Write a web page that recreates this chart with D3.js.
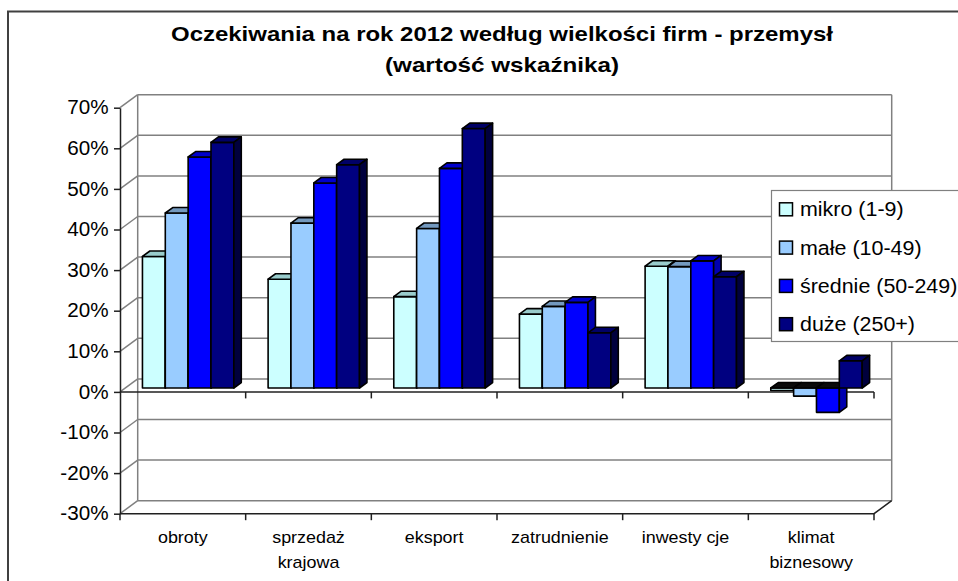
<!DOCTYPE html>
<html>
<head>
<meta charset="utf-8">
<script src="https://cdnjs.cloudflare.com/ajax/libs/d3/7.8.5/d3.min.js"></script>
<style>
  body { margin: 0; background: #fff; }
  svg { display: block; font-family: "Liberation Sans", Arial, sans-serif; }
</style>
</head>
<body>
<script>
// data (percent)
const categories = ["obroty", "sprzedaż\nkrajowa", "eksport", "zatrudnienie", "inwesty cje", "klimat\nbiznesowy"];
const series = ["mikro (1-9)", "małe (10-49)", "średnie (50-249)", "duże (250+)"];
const mikro   = [32.4, 26.8, 22.5, 18.2, 30.0, -0.6];
const male    = [43.1, 40.6, 39.3, 20.1, 29.9, -2.0];
const srednie = [56.9, 50.5, 54.1, 21.1, 31.3, -6.0];
const duze    = [60.5, 55.0, 63.9, 13.6, 27.4, 6.7];
const yTicks = [-30, -20, -10, 0, 10, 20, 30, 40, 50, 60, 70];
const titleLines = ["Oczekiwania na rok 2012 według wielkości firm - przemysł", "(wartość wskaźnika)"];

const values = [mikro, male, srednie, duze];
const frontCol = ["#ccffff", "#99ccff", "#0000ff", "#000080"];
const topCol   = ["#99cccc", "#7399bf", "#0000cc", "#000066"];
const sideCol  = ["#80aaaa", "#5f82a6", "#0000b0", "#00003d"];

const W = 958, H = 581;
const DX = 17.7, DY = 13;          // depth of the 3D box
const D0 = 0.3, D1 = 0.72;         // bar depth inside box

const svg = d3.select("body").append("svg").attr("width", W).attr("height", H);

const x0 = d3.scaleBand().domain(categories).range([120, 874]);
const x1 = d3.scaleBand().domain(series).range([0, x0.bandwidth()]).paddingOuter(0.75);
const y = d3.scaleLinear().domain([-30, 70]).range([513.7, 107.7]);

const left = x0.range()[0], right = x0.range()[1];
const grid = "#808080";

// text in the picture is a bit stretched sideways
function stext(g, x, yy, str, size, sx) {
  return g.append("text")
    .attr("transform", `translate(${x},${yy}) scale(${sx},1)`)
    .attr("font-size", size)
    .attr("fill", "#000")
    .text(str);
}

// outer frame
svg.append("path").attr("d", `M8,${H} V11.5 H${W}`)
  .attr("fill", "none").attr("stroke", "#404040").attr("stroke-width", 2);

// title
const title = svg.append("g").attr("font-weight", "bold").attr("font-size", 20.5).attr("text-anchor", "middle");
title.append("text").attr("x", 502).attr("y", 41).attr("textLength", 662)
  .attr("lengthAdjust", "spacingAndGlyphs").text(titleLines[0]);
title.append("text").attr("x", 502).attr("y", 72).attr("textLength", 234)
  .attr("lengthAdjust", "spacingAndGlyphs").text(titleLines[1]);

// back wall and side wall gridlines
const walls = svg.append("g").attr("stroke", grid).attr("stroke-width", 1.5).attr("fill", "none");
walls.selectAll(".back").data(yTicks).join("line")
  .attr("x1", left + DX).attr("x2", right + DX)
  .attr("y1", d => y(d) - DY).attr("y2", d => y(d) - DY);
walls.selectAll(".side").data(yTicks).join("line")
  .attr("x1", left).attr("x2", left + DX)
  .attr("y1", d => y(d)).attr("y2", d => y(d) - DY);
walls.append("line").attr("x1", left + DX).attr("x2", left + DX)
  .attr("y1", y(70) - DY).attr("y2", y(-30) - DY);
walls.append("line").attr("x1", right + DX).attr("x2", right + DX)
  .attr("y1", y(70) - DY).attr("y2", y(-30) - DY);

// floor front edge
svg.append("path")
  .attr("d", `M${left},${y(-30)} H${right} L${right + DX},${y(-30) - DY}`)
  .attr("fill", "none").attr("stroke", "#202020").attr("stroke-width", 1.5);
svg.append("g").selectAll("line").data(d3.range(categories.length + 1)).join("line")
  .attr("x1", i => left + i * x0.step()).attr("x2", i => left + i * x0.step())
  .attr("y1", y(-30)).attr("y2", y(-30) + 6.5)
  .attr("stroke", "#202020").attr("stroke-width", 1.5);

// value axis
const ySX = 1.06;
const yAxis = svg.append("g").attr("transform", `translate(${left},0)`)
  .call(d3.axisLeft(y).tickValues(yTicks).tickSize(6).tickSizeOuter(0).tickPadding(9)
    .tickFormat(d => d + "%"));
yAxis.select(".domain").attr("stroke", "#202020").attr("stroke-width", 1.5);
yAxis.selectAll(".tick line").attr("stroke", "#202020").attr("stroke-width", 1.5);
yAxis.selectAll(".tick text")
  .attr("font-size", 19.5).attr("fill", "#000")
  .attr("font-family", "Liberation Sans, Arial, sans-serif")
  .attr("x", -11.5 / ySX)
  .attr("transform", `scale(${ySX},1)`);

// zero line (category axis)
svg.append("line").attr("x1", left).attr("x2", right).attr("y1", y(0)).attr("y2", y(0))
  .attr("stroke", "#202020").attr("stroke-width", 1.5);
svg.append("g").selectAll("line").data(d3.range(1, categories.length + 1)).join("line")
  .attr("x1", i => left + i * x0.step()).attr("x2", i => left + i * x0.step())
  .attr("y1", y(0)).attr("y2", y(0) + 6.5)
  .attr("stroke", "#202020").attr("stroke-width", 1.5);

// bars
const bars = svg.append("g").attr("stroke", "#000").attr("stroke-width", 1.6).attr("stroke-linejoin", "round");
categories.forEach((c, i) => {
  series.forEach((s, j) => {
    const v = values[j][i];
    const bx = x0(c) + x1(s) + D0 * DX;
    const bw = x1.bandwidth();
    const hi = Math.max(v, 0), lo = Math.min(v, 0);
    const yt = y(hi) - D0 * DY, yb = y(lo) - D0 * DY;
    const ddx = (D1 - D0) * DX, ddy = (D1 - D0) * DY;
    const g = bars.append("g");
    g.append("polygon")
      .attr("points", [[bx, yt], [bx + bw, yt], [bx + bw, yb], [bx, yb]].join(" "))
      .attr("fill", frontCol[j]);
    g.append("polygon")
      .attr("points", [[bx, yt], [bx + ddx, yt - ddy], [bx + bw + ddx, yt - ddy], [bx + bw, yt]].join(" "))
      .attr("fill", v < 0 ? "#0a0a0a" : topCol[j]);
    g.append("polygon")
      .attr("points", [[bx + bw, yt], [bx + bw + ddx, yt - ddy], [bx + bw + ddx, yb - ddy], [bx + bw, yb]].join(" "))
      .attr("fill", sideCol[j]);
  });
});

// category labels
const catG = svg.append("g").attr("text-anchor", "middle");
categories.forEach(c => {
  c.split("\n").forEach((line, k) => {
    stext(catG, x0(c) + x0.bandwidth() / 2, 543 + k * 25, line, 16, 1.12);
  });
});

// legend
const lg = svg.append("g");
lg.append("rect").attr("x", 771.5).attr("y", 190.5).attr("width", 200).attr("height", 151)
  .attr("fill", "#fff").attr("stroke", grid).attr("stroke-width", 1.2);
series.forEach((s, j) => {
  const cy = 209.3 + j * 38.3;
  lg.append("rect").attr("x", 779.5).attr("y", cy - 6.5).attr("width", 13).attr("height", 13)
    .attr("fill", frontCol[j]).attr("stroke", "#000").attr("stroke-width", 1.5);
  stext(lg, 800, cy + 7, s, 19.5, 1.1);
});
</script>
</body>
</html>
